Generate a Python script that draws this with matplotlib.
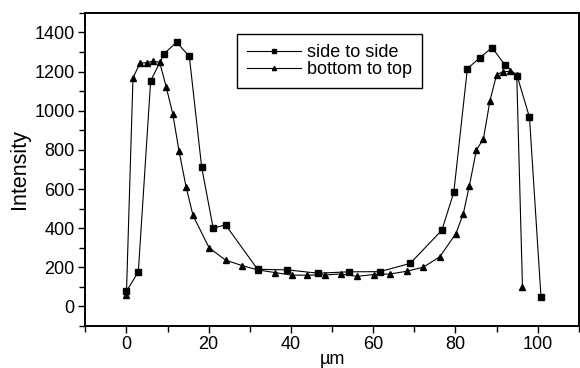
import matplotlib
matplotlib.use("Agg")
import matplotlib.pyplot as plt
from matplotlib.ticker import MultipleLocator

plt.rcParams['font.family'] = ['Liberation Sans', 'DejaVu Sans']

# side to side (squares)
x_side = [0, 2.9, 5.9, 9.2, 12.2, 15.3, 18.3, 21.1, 24.1, 31.9, 39.1, 46.6,
          54.1, 61.6, 69.0, 76.7, 79.6, 82.9, 85.9, 88.9, 92.0, 95.0, 98.0, 100.8]
y_side = [77, 177, 1153, 1292, 1350, 1278, 712, 400, 417, 190, 187, 170,
          177, 178, 220, 390, 583, 1215, 1270, 1323, 1235, 1179, 966, 48]

# bottom to top (triangles)
x_bt = [0, 1.6, 3.3, 4.9, 6.5, 8.1, 9.7, 11.3, 12.8, 14.5, 16.2, 20.1, 24.1,
        28.1, 31.9, 36.2, 40.2, 44.0, 48.2, 52.1, 56.1, 60.1, 64.1, 68.2, 72.2,
        76.2, 80.1, 81.9, 83.4, 85.1, 86.8, 88.4, 90.0, 91.5, 93.3, 94.9, 96.3]
y_bt = [57, 1167, 1244, 1245, 1254, 1247, 1120, 981, 794, 612, 465, 300, 237,
        209, 187, 173, 160, 160, 161, 166, 154, 163, 166, 180, 201,
        254, 372, 473, 618, 800, 856, 1052, 1184, 1199, 1201, 1182, 98]

fig = plt.figure(figsize=(5.8, 3.68), dpi=100)
ax = fig.add_axes([0.147, 0.114, 0.851, 0.851])

ax.plot(x_side, y_side, color='black', lw=0.8, marker='s', ms=4.5, label='side to side')
ax.plot(x_bt, y_bt, color='black', lw=0.8, marker='^', ms=5, label='bottom to top')

ax.set_xlim(-10, 110)
ax.set_ylim(-100, 1500)
ax.xaxis.set_major_locator(MultipleLocator(20))
ax.xaxis.set_minor_locator(MultipleLocator(10))
ax.yaxis.set_major_locator(MultipleLocator(200))
ax.yaxis.set_minor_locator(MultipleLocator(100))
ax.set_yticks(range(0, 1401, 200))
ax.tick_params(which='both', direction='out', labelsize=13, width=1)
ax.tick_params(which='major', length=5, pad=2.5)
ax.tick_params(which='minor', length=4)
for s in ax.spines.values():
    s.set_linewidth(1.4)

ax.set_xlabel('µm', fontsize=13, labelpad=-2)
ax.set_ylabel('Intensity', fontsize=15.5, labelpad=3)

leg = ax.legend(loc='upper left', bbox_to_anchor=(0.307, 0.932), fontsize=13,
                fancybox=False, framealpha=1, edgecolor='black', borderpad=0.55,
                handlelength=3.0, handletextpad=0.35, labelspacing=0.0, borderaxespad=0,
                markerscale=0.6)
leg.get_frame().set_linewidth(1.0)

fig.savefig('out.png', dpi=100)
